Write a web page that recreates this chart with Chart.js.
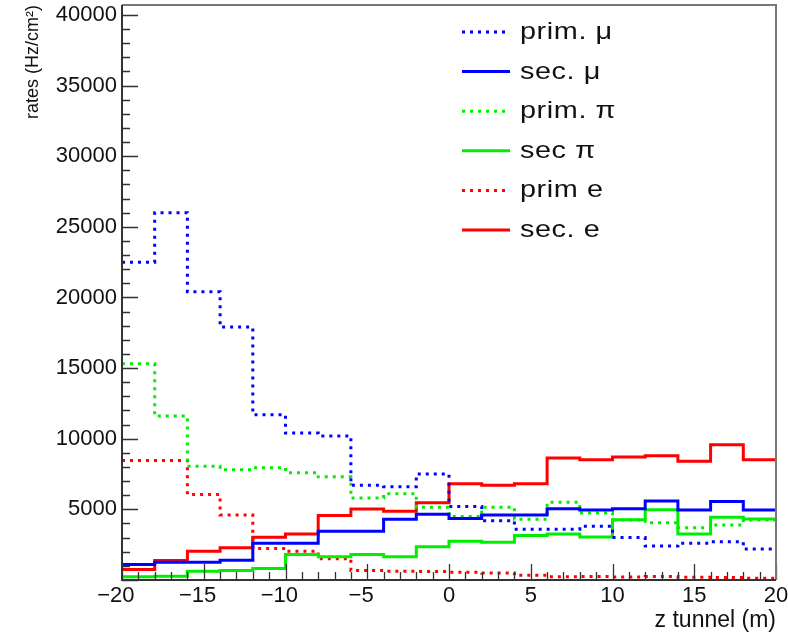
<!DOCTYPE html>
<html>
<head>
<meta charset="utf-8">
<script src="https://cdn.jsdelivr.net/npm/chart.js@4.4.1/dist/chart.umd.min.js"></script>
<style>
  html, body { margin: 0; padding: 0; background: #fff; }
  #wrap { width: 788px; height: 636px; }
</style>
</head>
<body>
<div id="wrap"><canvas id="ratesChart" width="788" height="636"></canvas></div>
<script>
"use strict";

// bin edges along the tunnel (m), 2 m bins
const binEdges = [-20, -18, -16, -14, -12, -10, -8, -6, -4, -2, 0, 2, 4, 6, 8, 10, 12, 14, 16, 18, 20];

// rates per bin (Hz/cm2)
const primMu = [22500, 26000, 20400, 17900, 11700, 10400, 10200, 6700, 6600, 7500, 5200, 4200, 3600, 3600, 3800, 3000, 2400, 2600, 2700, 2200];
const secMu  = [1100, 1250, 1250, 1400, 2600, 2600, 3450, 3450, 4300, 4650, 4350, 4600, 4600, 5050, 4950, 5050, 5600, 4950, 5550, 4950];
const primPi = [15300, 11600, 8050, 7800, 7950, 7600, 7300, 5800, 6100, 5150, 4500, 5150, 4300, 5500, 4750, 4250, 4050, 3700, 3900, 4250];
const secPi  = [230, 270, 620, 670, 810, 1800, 1640, 1800, 1640, 2350, 2740, 2670, 3150, 3260, 3050, 4270, 4980, 3260, 4440, 4320];
const primE  = [8450, 8450, 6050, 4600, 2230, 2040, 1500, 670, 620, 600, 550, 500, 330, 230, 250, 220, 240, 200, 170, 120];
const secE   = [740, 1380, 2040, 2280, 3030, 3260, 4560, 5030, 4870, 5460, 6820, 6700, 6820, 8640, 8520, 8710, 8800, 8400, 9580, 8520];

const seriesLabels = ["prim. μ", "sec. μ", "prim. π", "sec π", "prim e", "sec. e"];

const xTicks = [-20, -15, -10, -5, 0, 5, 10, 15, 20];
const yTicks = [5000, 10000, 15000, 20000, 25000, 30000, 35000, 40000];

const FONT = '"Liberation Sans", Arial, Helvetica, sans-serif';
const BLUE = '#0000ff';
const GREEN = '#00ee00';
const RED = '#ff0000';
const DOTS = [3, 5];

// histogram -> points on bin edges, last value repeated at the right edge
function toSteps(values) {
	return binEdges.map((x, i) => ({ x: x, y: values[Math.min(i, values.length - 1)] }));
}

function histo(label, values, color, dotted) {
	return {
		label: label,
		data: toSteps(values),
		borderColor: color,
		backgroundColor: color,
		borderWidth: 3,
		borderDash: dotted ? DOTS : [],
		borderCapStyle: 'butt',
		stepped: 'before',
		pointRadius: 0,
		fill: false
	};
}

// ROOT style frame with inner ticks
const frameTicks = {
	id: 'frameTicks',
	afterDatasetsDraw(chart, args, opts) {
		const { ctx, chartArea: a, scales: { x, y } } = chart;
		ctx.save();
		ctx.strokeStyle = opts.tickColor;
		ctx.lineWidth = opts.tickWidth;
		ctx.beginPath();
		for (let v = x.min; v <= x.max; v += opts.xMinorStep) {
			const px = Math.round(x.getPixelForValue(v)) + 0.5;
			const len = v % opts.xMajorStep === 0 ? opts.majorLen : opts.minorLen;
			ctx.moveTo(px, a.bottom);
			ctx.lineTo(px, a.bottom - len);
		}
		for (let v = 0; v <= y.max; v += opts.yMinorStep) {
			const py = Math.round(y.getPixelForValue(v)) + 0.5;
			const len = v % opts.yMajorStep === 0 ? opts.majorLen : opts.minorLen;
			ctx.moveTo(a.left, py);
			ctx.lineTo(a.left + len, py);
		}
		ctx.stroke();

		ctx.strokeStyle = opts.frameColor;
		ctx.lineWidth = opts.frameWidth;
		ctx.beginPath();
		ctx.moveTo(a.left, a.top);
		ctx.lineTo(a.right, a.top);
		ctx.lineTo(a.right, a.bottom);
		ctx.stroke();

		ctx.strokeStyle = opts.axisColor;
		ctx.beginPath();
		ctx.moveTo(a.left, a.top);
		ctx.lineTo(a.left, a.bottom);
		ctx.lineTo(a.right, a.bottom);
		ctx.stroke();
		ctx.restore();
	}
};

// legend drawn inside the frame, one column
const boxLegend = {
	id: 'boxLegend',
	afterDraw(chart, args, opts) {
		const ctx = chart.ctx;
		ctx.save();
		chart.data.datasets.forEach((ds, i) => {
			const yc = opts.top + i * opts.rowHeight;
			ctx.strokeStyle = ds.borderColor;
			ctx.lineWidth = ds.borderWidth;
			ctx.lineCap = 'butt';
			ctx.setLineDash(ds.borderDash || []);
			ctx.beginPath();
			ctx.moveTo(opts.lineStart, yc);
			ctx.lineTo(opts.lineEnd, yc);
			ctx.stroke();
			ctx.setLineDash([]);

			ctx.save();
			ctx.translate(opts.textX, yc + opts.baseline);
			ctx.scale(opts.stretch, 1);
			ctx.font = opts.font;
			if ('letterSpacing' in ctx) ctx.letterSpacing = opts.spacing;
			ctx.fillStyle = opts.color;
			ctx.textBaseline = 'alphabetic';
			ctx.fillText(ds.label, 0, 0);
			ctx.restore();
		});
		ctx.restore();
	}
};

function init() {
	const ctx = document.getElementById('ratesChart').getContext('2d');

	new Chart(ctx, {
		type: 'line',
		data: {
			datasets: [
				histo(seriesLabels[0], primMu, BLUE, true),
				histo(seriesLabels[1], secMu, BLUE, false),
				histo(seriesLabels[2], primPi, GREEN, true),
				histo(seriesLabels[3], secPi, GREEN, false),
				histo(seriesLabels[4], primE, RED, true),
				histo(seriesLabels[5], secE, RED, false)
			]
		},
		options: {
			responsive: false,
			animation: false,
			devicePixelRatio: 1,
			events: [],
			layout: { padding: { left: 0, top: 5, right: 12, bottom: 0 } },
			plugins: {
				legend: { display: false },
				tooltip: { enabled: false },
				frameTicks: {
					tickColor: '#333', tickWidth: 1.3,
					frameColor: '#777', frameWidth: 2, axisColor: '#333',
					majorLen: 16, minorLen: 8,
					xMinorStep: 1, xMajorStep: 5,
					yMinorStep: 1000, yMajorStep: 5000
				},
				boxLegend: {
					top: 32, rowHeight: 39.6,
					lineStart: 462, lineEnd: 510, textX: 520, baseline: 7,
					font: '24px ' + FONT, color: '#111', stretch: 1.2, spacing: '0.5px'
				}
			},
			scales: {
				x: {
					type: 'linear',
					min: binEdges[0],
					max: binEdges[binEdges.length - 1],
					afterBuildTicks: (s) => { s.ticks = xTicks.map(v => ({ value: v })); },
					afterFit: (s) => { s.height = 56; s.paddingLeft = 0; s.paddingRight = 0; },
					grid: { display: false, drawTicks: false },
					border: { display: false },
					ticks: {
						autoSkip: false,
						maxRotation: 0,
						padding: 3,
						color: '#111',
						font: { family: FONT, size: 22 },
						callback: (v) => v < 0 ? '\u2212' + (-v) + '  ' : String(v)
					},
					title: {
						display: true,
						text: 'z tunnel (m)',
						align: 'end',
						color: '#111',
						font: { family: FONT, size: 23 },
						padding: { top: 0, bottom: 2 }
					}
				},
				y: {
					min: 0,
					max: 40700,
					afterBuildTicks: (s) => { s.ticks = yTicks.map(v => ({ value: v })); },
					afterFit: (s) => { s.width = 122; s.paddingTop = 0; s.paddingBottom = 0; },
					grid: { display: false, drawTicks: false },
					border: { display: false },
					ticks: {
						padding: 5,
						color: '#111',
						font: { family: FONT, size: 22 },
						callback: (v) => String(v)
					},
					title: {
						display: true,
						text: 'rates (Hz/cm²)',
						align: 'end',
						color: '#111',
						font: { family: FONT, size: 18 },
						padding: { top: 22, bottom: 0 }
					}
				}
			}
		},
		plugins: [frameTicks, boxLegend]
	});
}

document.addEventListener("DOMContentLoaded", init);
</script>
</body>
</html>
